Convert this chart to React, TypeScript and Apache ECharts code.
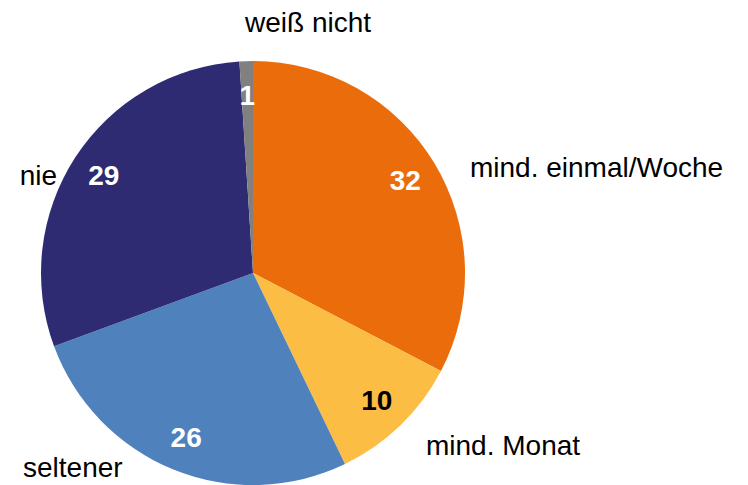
import React, { useEffect, useRef } from "react";
import * as echarts from "echarts";

const categories = ["mind. einmal/Woche", "mind. Monat", "seltener", "nie", "weiß nicht"];
const values = [32, 10, 26, 29, 1];
const colors = ["#EA6C0B", "#FBBD44", "#4F81BD", "#2E2B72", "#808080"];
const valueLabelColors = ["#FFFFFF", "#000000", "#FFFFFF", "#FFFFFF", "#FFFFFF"];
// name label anchors: [x, y, align]
const nameAnchors: [number, number, string][] = [
  [470, 167, "left"],
  [426, 445, "left"],
  [23, 467, "left"],
  [57, 175, "right"],
  [308, 22, "center"],
];

const FONT = "'Liberation Sans', Arial, Helvetica, sans-serif";

export default function App() {
  const ref = useRef<HTMLDivElement>(null);
  useEffect(() => {
    if (!ref.current) return;
    const chart = echarts.init(ref.current, undefined, { renderer: "svg" });
    chart.setOption({
      animation: false,
      backgroundColor: "#FFFFFF",
      series: [
        {
          type: "pie",
          center: [253, 273],
          radius: [0, 212],
          startAngle: 90,
          clockwise: true,
          silent: true,
          data: categories.map((c, i) => ({
            name: c,
            value: values[i],
            itemStyle: { color: colors[i] },
          })),
          itemStyle: { borderWidth: 0 },
          label: {
            show: true,
            position: "outside",
            formatter: "{b}",
            fontFamily: FONT,
            fontSize: 28,
            color: "#000000",
            overflow: "none",
            width: 400,
          },
          labelLine: { show: false },
          labelLayout: (params: any) => {
            const a = nameAnchors[params.dataIndex];
            return { x: a[0], y: a[1], align: a[2], verticalAlign: "middle", moveOverlap: false, hideOverlap: false };
          },
        },
        {
          type: "pie",
          center: [253, 273],
          radius: [150, 200],
          startAngle: 90,
          clockwise: true,
          silent: true,
          data: categories.map((c, i) => ({
            name: c,
            value: values[i],
            itemStyle: { color: "rgba(0,0,0,0)" },
            label: { color: valueLabelColors[i] },
          })),
          label: {
            show: true,
            position: "inside",
            formatter: "{c}",
            fontFamily: FONT,
            fontSize: 28,
            fontWeight: "bold",
          },
          labelLine: { show: false },
        },
      ],
    });
    return () => chart.dispose();
  }, []);
  return (
    <div
      ref={ref}
      style={{ position: "fixed", left: 0, top: 0, width: 748, height: 485, background: "#fff" }}
    />
  );
}
